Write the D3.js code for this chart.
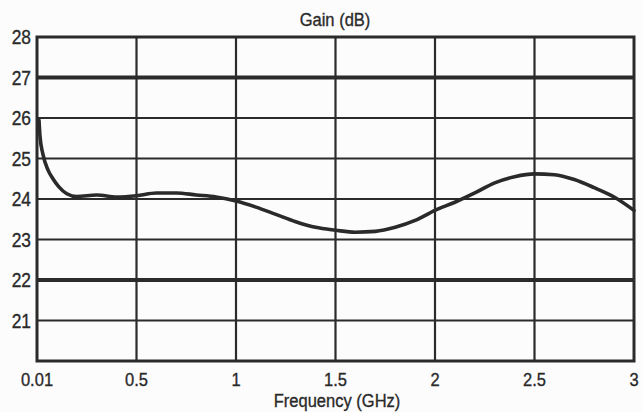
<!DOCTYPE html>
<html>
<head>
<meta charset="utf-8">
<script src="https://cdn.jsdelivr.net/npm/d3@7"></script>
<style>
  html, body { margin: 0; padding: 0; background: #fcfcfc; }
  svg { display: block; }
  text { font-family: "Liberation Sans", Arial, sans-serif; fill: #2a2a2a; stroke: #2a2a2a; stroke-width: 0.35px; }
</style>
</head>
<body>
<svg id="chart" width="642" height="412"></svg>
<script>
// ---- data ----
const freqGHz = [0.01, 0.015, 0.03, 0.055, 0.08, 0.11, 0.15, 0.2, 0.3, 0.4, 0.5, 0.6, 0.7, 0.8, 0.9,
  1.0, 1.1, 1.2, 1.3, 1.4, 1.5, 1.6, 1.7, 1.8, 1.9, 2.0, 2.1, 2.2, 2.3, 2.4, 2.5, 2.6, 2.7, 2.8, 2.9, 3.0];
const gainDB = [25.95, 25.55, 25.1, 24.72, 24.5, 24.3, 24.13, 24.06, 24.1, 24.05, 24.08, 24.15, 24.15, 24.1, 24.05,
  23.95, 23.8, 23.62, 23.44, 23.3, 23.23, 23.18, 23.2, 23.3, 23.47, 23.72, 23.92, 24.15, 24.4, 24.55, 24.62, 24.6, 24.48, 24.28, 24.05, 23.72];
const xTickValues = [0, 0.5, 1, 1.5, 2, 2.5, 3];
const xTickLabels = ["0.01", "0.5", "1", "1.5", "2", "2.5", "3"];
const yTickValues = [21, 22, 23, 24, 25, 26, 27, 28];
const heavyY = [22, 27];
const titleText = "Gain (dB)";
const xAxisTitle = "Frequency (GHz)";

// ---- layout ----
const svg = d3.select("#chart");
const pLeft = 37, pRight = 634, pTop = 37, pBottom = 361;
const x = d3.scaleLinear().domain([0, 3]).range([pLeft, pRight]);
const y = d3.scaleLinear().domain([20, 28]).range([pBottom, pTop]);
const ink = "#2b2b2b";
const squeeze = 0.87;

// vertical grid
svg.append("g").selectAll("line").data(xTickValues.slice(1, -1)).join("line")
  .attr("x1", d => x(d)).attr("x2", d => x(d))
  .attr("y1", pTop).attr("y2", pBottom)
  .attr("stroke", ink).attr("stroke-width", 2.2);

// horizontal grid
svg.append("g").selectAll("line").data(yTickValues.filter(v => v < 28)).join("line")
  .attr("x1", pLeft).attr("x2", pRight)
  .attr("y1", d => y(d)).attr("y2", d => y(d))
  .attr("stroke", ink)
  .attr("stroke-width", d => heavyY.includes(d) ? 4 : 2.2);

// frame
svg.append("rect")
  .attr("x", pLeft).attr("y", pTop)
  .attr("width", pRight - pLeft).attr("height", pBottom - pTop)
  .attr("fill", "none").attr("stroke", ink).attr("stroke-width", 3);

// curve
const pts = freqGHz.map((f, i) => [f, gainDB[i]]);
const line = d3.line().x(d => x(d[0])).y(d => y(d[1])).curve(d3.curveMonotoneX);
svg.append("path").datum(pts)
  .attr("d", line)
  .attr("fill", "none").attr("stroke", "#2a2a2a")
  .attr("stroke-width", 3.6).attr("stroke-linejoin", "round").attr("stroke-linecap", "round");

// y labels
svg.append("g").selectAll("text").data(yTickValues).join("text")
  .attr("transform", d => `translate(${pLeft - 6},${y(d)}) scale(${squeeze},1)`)
  .attr("dy", "0.36em")
  .attr("text-anchor", "end")
  .attr("font-size", 20)
  .text(d => d);

// x labels
svg.append("g").selectAll("text").data(xTickValues).join("text")
  .attr("transform", d => `translate(${x(d)},386) scale(${squeeze},1)`)
  .attr("text-anchor", "middle")
  .attr("font-size", 19)
  .text((d, i) => xTickLabels[i]);

// titles
svg.append("text").attr("transform", `translate(335,26) scale(${squeeze},1)`)
  .attr("text-anchor", "middle").attr("font-size", 19).text(titleText);
svg.append("text").attr("transform", `translate(337,407) scale(${squeeze},1)`)
  .attr("text-anchor", "middle").attr("font-size", 19).text(xAxisTitle);
</script>
</body>
</html>
